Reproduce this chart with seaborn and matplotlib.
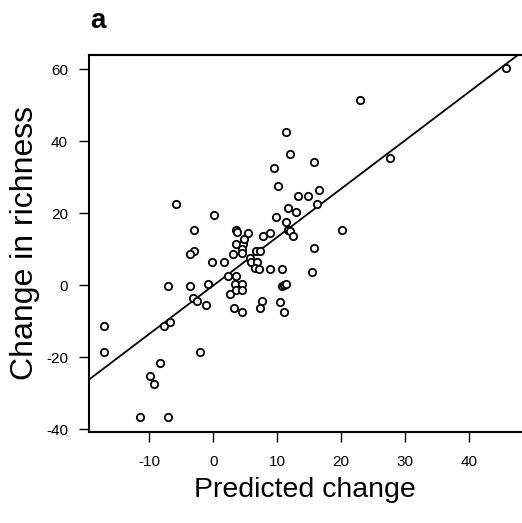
import matplotlib
matplotlib.use("Agg")
import matplotlib.pyplot as plt
import seaborn as sns
import pandas as pd

predicted_change = [
    -17.1, -17.1, -11.5, -7.1, -9.9, -9.3, -8.3, -7.7, -6.8, -7.1,
    -5.8, -3.0, -3.0, -3.6, -3.6, -3.2, -2.6, -1.1, -2.1, -0.8,
    0.1, -0.2, 1.7, 2.3, 2.7, 3.5, 3.8, 3.5, 4.6, 4.8,
    5.5, 4.5, 3.1, 4.5, 3.5, 3.4, 4.5, 3.5, 4.5, 3.2,
    4.5, 5.8, 5.9, 6.7, 7.3, 6.8, 6.6, 7.1, 7.8, 8.9,
    8.9, 10.7, 7.6, 7.3, 10.4, 11.0, 10.8, 11.1, 11.4, 9.8,
    11.4, 11.7, 12.0, 12.5, 11.7, 12.9, 10.1, 9.5, 12.0, 11.4,
    13.2, 14.8, 15.7, 16.6, 16.3, 15.8, 15.4, 20.1, 22.9, 27.6,
    45.7,
]
change_in_richness = [
    -11.4, -18.6, -36.5, -36.5, -25.3, -27.5, -21.5, -11.4, -10.3, -0.3,
    22.4, 15.2, 9.6, 8.7, -0.3, -3.5, -4.4, -5.4, -18.6, 0.3,
    19.6, 6.3, 6.3, 2.5, -2.5, 15.4, 14.7, 11.4, 11.4, 12.7,
    14.6, 9.9, 8.5, 8.8, 2.5, 0.3, 0.3, -1.4, -1.4, -6.3,
    -7.4, 7.4, 6.4, 9.6, 9.6, 6.3, 4.7, 4.5, 13.6, 14.6,
    4.6, 4.6, -4.5, -6.3, -4.6, -7.4, -0.2, 0.1, 0.3, 18.8,
    17.5, 15.3, 15.1, 13.6, 21.4, 20.3, 27.5, 32.4, 36.3, 42.5,
    24.7, 24.7, 34.1, 26.4, 22.4, 10.4, 3.6, 15.3, 51.4, 35.3,
    60.2,
]
x_ticks = [-10, 0, 10, 20, 30, 40]
y_ticks = [-40, -20, 0, 20, 40, 60]

df = pd.DataFrame({"Predicted change": predicted_change,
                   "Change in richness": change_in_richness})

sns.set_style("white")
plt.rcParams["font.family"] = ["Liberation Sans", "DejaVu Sans"]
plt.rcParams["axes.unicode_minus"] = False
plt.rcParams["text.color"] = "black"
plt.rcParams["axes.labelcolor"] = "black"
plt.rcParams["xtick.color"] = "black"
plt.rcParams["ytick.color"] = "black"

fig = plt.figure(figsize=(5.22, 5.23), dpi=100)
ax = fig.add_axes([89 / 522, 1 - 432 / 523, (521 - 89) / 522, (432 - 55) / 523])
xlim = (-19.4, 48.1)
ylim = (-40.8, 63.9)
ax.set_xlim(*xlim)
ax.set_ylim(*ylim)

sns.regplot(data=df, x="Predicted change", y="Change in richness", ax=ax,
            ci=None, truncate=False,
            scatter_kws=dict(s=28, facecolor="white", edgecolor="black",
                             linewidths=1.3, alpha=1, zorder=3),
            line_kws=dict(color="black", lw=1.3, zorder=2))

ax.set_xlim(*xlim)
ax.set_ylim(*ylim)
ax.set_xticks(x_ticks)
ax.set_yticks(y_ticks)
ax.tick_params(axis="both", which="both", direction="out", length=7.2,
               width=1.0, colors="black", labelsize=11, bottom=True, left=True,
               top=False, right=False)
ax.tick_params(axis="x", pad=9)
ax.tick_params(axis="y", pad=8)
for name, sp in ax.spines.items():
    sp.set_color("black")
    sp.set_linewidth(1.5)
ax.spines["right"].set_visible(False)

ax.set_xlabel("Predicted change", fontsize=20.5, labelpad=6, color="black")
ax.set_ylabel("Change in richness", fontsize=23, labelpad=4, color="black")
fig.text(90 / 522, 1 - 28 / 523, "a", fontsize=20, fontweight="bold",
         ha="left", va="baseline", color="black")

fig.savefig("out.png", dpi=100, facecolor="white")
